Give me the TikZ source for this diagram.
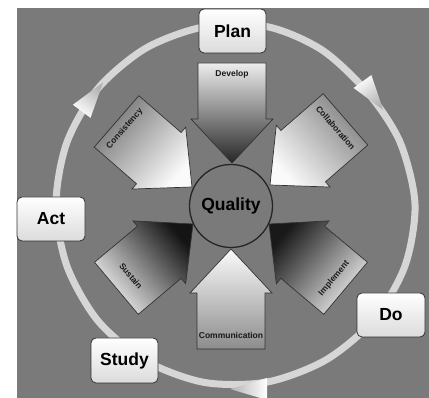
\documentclass[tikz,border=0pt]{standalone}
\usepackage{fontspec}
\setmainfont{Liberation Sans}
\usetikzlibrary{calc}

\definecolor{canvas}{gray}{0.48}
\definecolor{ringcol}{gray}{0.84}
\definecolor{edge}{gray}{0.2}
\definecolor{g08}{gray}{0.08}
\definecolor{g10}{gray}{0.10}
\definecolor{g15}{gray}{0.15}
\definecolor{g45}{gray}{0.45}
\definecolor{g50}{gray}{0.50}
\definecolor{g55}{gray}{0.55}
\definecolor{g92}{gray}{0.92}
\definecolor{g93}{gray}{0.93}
\definecolor{g95}{gray}{0.95}
\definecolor{g98}{gray}{0.98}

\tikzset{
  stage/.style={draw=edge, line width=0.8pt, rounded corners=5pt,
    top color=white, bottom color=gray!28, minimum width=67pt,
    minimum height=44pt, inner sep=0pt,
    font=\fontsize{17.5}{20}\selectfont\bfseries},
  hub/.style={circle, draw=black!85, line width=1.3pt, fill=canvas,
    minimum size=83pt, inner sep=0pt,
    font=\fontsize{17.5}{20}\selectfont\bfseries},
  arrowlabel/.style={font=\fontsize{8.5}{10}\selectfont\bfseries,
    inner sep=0pt, text=black!90},
  blockedge/.style={draw=edge, line width=0.7pt},
  ring/.style={draw=ringcol, line width=7pt},
}

% block arrow: tip, pointing angle, colour at the back, colour at the tip
\newcommand\blockarrow[4]{%
  \pgfmathsetmacro\shadeang{#2+90}%
  \shade[blockedge, top color=#3, bottom color=#4, shading angle=\shadeang]
    (#1) -- ($(#1)+(#2+180:44)+(#2+90:41)$) -- ($(#1)+(#2+180:44)+(#2+90:34)$)
    -- ($(#1)+(#2+180:100)+(#2+90:34)$) -- ($(#1)+(#2+180:100)+(#2-90:34)$)
    -- ($(#1)+(#2+180:44)+(#2-90:34)$) -- ($(#1)+(#2+180:44)+(#2-90:41)$)
    -- cycle;}

% arrowhead sitting on the cycle ring: base centre, direction, length
\newcommand\ringhead[3]{%
  \pgfmathsetmacro\shadeang{#2+90}%
  \shade[top color=white, bottom color=gray!60, shading angle=\shadeang]
    ($(#1)+(#2+90:11)$) -- ($(#1)+(#2:#3)$) -- ($(#1)+(#2-90:11)$) -- cycle;}

\begin{document}
\begin{tikzpicture}[x=1pt, y=1pt]
  \useasboundingbox (0,0) rectangle (429,398);
  \fill[white] (0,0) rectangle (429,398);
  \fill[canvas] (17,0) rectangle (429,390);

  % the PDSA cycle ring
  \draw[ring] plot[smooth cycle, tension=0.5] coordinates {
    (56,194) (66.9,255.6) (98.1,309.7) (146,349.9) (204.7,371.3)
    (267.3,371.3) (322,348) (368,305) (400,256) (415,194)
    (405.1,132.4) (373.9,78.3) (326,38.1) (267.3,16) (204.7,15.5)
    (146,37) (98.1,77) (66.9,132)};

  % direction marks on the ring
  \coordinate (hTR) at (362.5,316.5);
  \coordinate (hTL) at (81.7,286.7);
  \coordinate (hB)  at (267,9);
  \ringhead{hTR}{-54}{35}
  \ringhead{hTL}{53.4}{36}
  \ringhead{hB}{180}{37}

  % tips of the block arrows
  \coordinate (tDev) at (232,235);
  \coordinate (tCom) at (231,149);
  \coordinate (tCon) at (192,211);
  \coordinate (tCol) at (270,213);
  \coordinate (tSus) at (193,174);
  \coordinate (tImp) at (269,174);

  \blockarrow{tDev}{-90}{g93}{g15}
  \blockarrow{tCom}{90}{g55}{g98}
  \blockarrow{tCon}{-41}{g45}{g98}
  \blockarrow{tCol}{-139}{g50}{g98}
  \blockarrow{tSus}{40}{g95}{g08}
  \blockarrow{tImp}{140}{g92}{g10}

  \node[arrowlabel] (develop) at ($(tDev)+(90:89)$) {Develop};
  \node[arrowlabel] (communication) at ($(tCom)+(-90:86)$) {Communication};
  \node[arrowlabel, rotate=49] (consistency) at ($(tCon)+(139:89)$) {Consistency};
  \node[arrowlabel, rotate=-49] (collaboration) at ($(tCol)+(41:87)$) {Collaboration};
  \node[arrowlabel, rotate=-50] (sustain) at ($(tSus)+(220:81)$) {Sustain};
  \node[arrowlabel, rotate=50] (implement) at ($(tImp)+(-40:85)$) {Implement};

  % centre
  \node[hub] (quality) at (231,192) {Quality};

  % stages of the cycle
  \node[stage] (plan)  at (232.5,367) {Plan};
  \node[stage, minimum width=68pt] (do)    at (391,83) {Do};
  \node[stage, minimum height=45pt] (study) at (124.5,37.5) {Study};
  \node[stage, minimum width=68pt] (act)   at (51,179) {Act};
\end{tikzpicture}
\end{document}
